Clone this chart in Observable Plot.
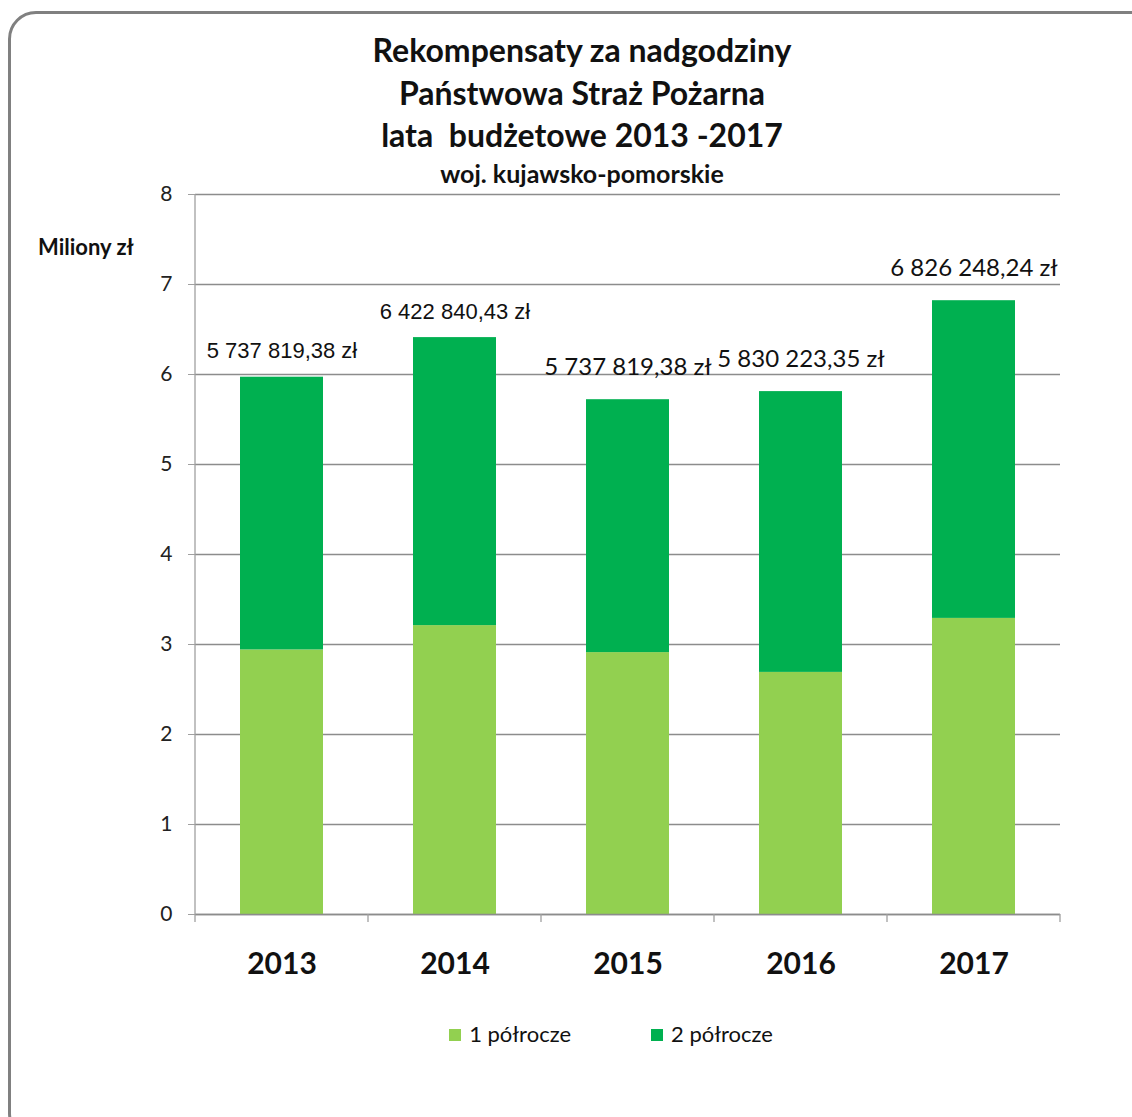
<!DOCTYPE html>
<html><head><meta charset="utf-8">
<script src="https://cdn.jsdelivr.net/npm/d3@7"></script>
<script src="https://cdn.jsdelivr.net/npm/@observablehq/plot@0.6"></script>
<style>
  html,body{margin:0;padding:0;background:#fff;}
  body{width:1132px;height:1117px;overflow:hidden;position:relative;font-family:Lato,"Open Sans",sans-serif;color:#111;}
  #frame{position:absolute;left:8px;top:11px;width:1150px;height:1130px;border:3px solid #808080;border-radius:28px;box-sizing:border-box;}
  .t{position:absolute;left:32px;width:1100px;text-align:center;font-weight:bold;line-height:1;}
  #chart{position:absolute;left:0;top:180px;}
  #ylab{position:absolute;left:38px;top:233px;font-weight:bold;font-size:22px;}
  #legend{position:absolute;top:1020px;left:0;width:1222px;display:flex;justify-content:center;gap:80px;font-size:22px;}
  #legend span.sw{display:inline-block;width:12px;height:12px;margin-right:8px;vertical-align:1px;}
</style>
</head><body>
<div id="frame"></div>
<div class="t" style="top:34px;font-size:32px;">Rekompensaty za nadgodziny</div>
<div class="t" style="top:77px;font-size:32px;">Państwowa Straż Pożarna</div>
<div class="t" style="top:119px;font-size:32px;">lata&nbsp; budżetowe 2013 -2017</div>
<div class="t" style="top:161px;font-size:25px;">woj. kujawsko-pomorskie</div>
<div id="ylab">Miliony zł</div>
<div id="chart"></div>
<div id="legend"></div>
<script>
const years = ["2013", "2014", "2015", "2016", "2017"];
const seriesNames = ["1 półrocze", "2 półrocze"];
const half1 = [2.94, 3.21, 2.91, 2.69, 3.29];
const half2 = [3.03, 3.20, 2.81, 3.12, 3.53];
const totalLabels = ["5 737 819,38 zł", "6 422 840,43 zł", "5 737 819,38 zł", "5 830 223,35 zł", "6 826 248,24 zł"];
const yTicks = [0, 1, 2, 3, 4, 5, 6, 7, 8];
const colors = ["#92D050", "#00B050"];

const rows = [];
years.forEach((y, i) => {
  rows.push({year: y, series: seriesNames[0], value: half1[i]});
  rows.push({year: y, series: seriesNames[1], value: half2[i]});
});
const totals = years.map((y, i) => ({year: y, total: half1[i] + half2[i], label: totalLabels[i], i}));

const M = {top: 14, bottom: 86, left: 195, right: 72};

function axisLines(index, scales, values, dimensions) {
  const {width, height, marginLeft, marginRight, marginTop, marginBottom} = dimensions;
  const x = scales.x;
  const g = d3.create("svg:g").attr("stroke-width", 1.3);
  const y0 = height - marginBottom;
  g.append("line").attr("x1", marginLeft).attr("x2", marginLeft).attr("y1", marginTop).attr("y2", y0).attr("stroke", "#a0a0a0");
  const step = x.step ? x.step() : (width - marginLeft - marginRight) / years.length;
  const bw = x.bandwidth ? x.bandwidth() : 0;
  const bounds = [];
  years.forEach((yr, i) => {
    const c = x(yr) + bw / 2;
    if (i === 0) bounds.push(c - step / 2);
    bounds.push(c + step / 2);
  });
  bounds.forEach(b => g.append("line").attr("x1", b).attr("x2", b).attr("y1", y0).attr("y2", y0 + 8).attr("stroke", "#a0a0a0"));
  return g.node();
}

const chart = Plot.plot({
  width: 1132, height: 820,
  marginTop: M.top, marginBottom: M.bottom, marginLeft: M.left, marginRight: M.right,
  style: {fontFamily: "Lato, 'Open Sans', sans-serif", background: "transparent", color: "#111", overflow: "visible"},
  x: {domain: years, paddingInner: 0.52, paddingOuter: 0.26, label: null},
  y: {domain: [0, 8], label: null},
  color: {domain: seriesNames, range: colors},
  marks: [
    Plot.gridY(yTicks, {stroke: "#8c8c8c", strokeOpacity: 1, strokeWidth: 1.3}),
    Plot.barY(rows, {x: "year", y: "value", fill: "series", order: seriesNames}),
    Plot.ruleY([0], {stroke: "#8c8c8c", strokeWidth: 1.3}),
    axisLines,
    Plot.axisY(yTicks, {tickSize: 7, tickPadding: 16, fontSize: 21, stroke: "#a0a0a0", fill: "#222", label: null, tickFormat: d3.format("d")}),
    Plot.axisX({tickSize: 0, tickPadding: 38, fontSize: 30, fontWeight: "bold", fill: "#111", label: null}),
    Plot.text(totals.filter(d => d.i < 2), {x: "year", y: "total", text: "label", dy: -26,
      fontSize: 22, fontFamily: "'Liberation Sans', Arial, sans-serif", fill: "#111"}),
    Plot.text(totals.filter(d => d.i >= 2), {x: "year", y: "total", text: "label", dy: -32,
      fontSize: 24, fontFamily: "Lato, sans-serif", fill: "#111"})
  ]
});
document.getElementById("chart").appendChild(chart);

const legend = document.getElementById("legend");
seriesNames.forEach((n, i) => {
  const item = document.createElement("div");
  item.innerHTML = `<span class="sw" style="background:${colors[i]}"></span>${n}`;
  legend.appendChild(item);
});
</script>
</body></html>
